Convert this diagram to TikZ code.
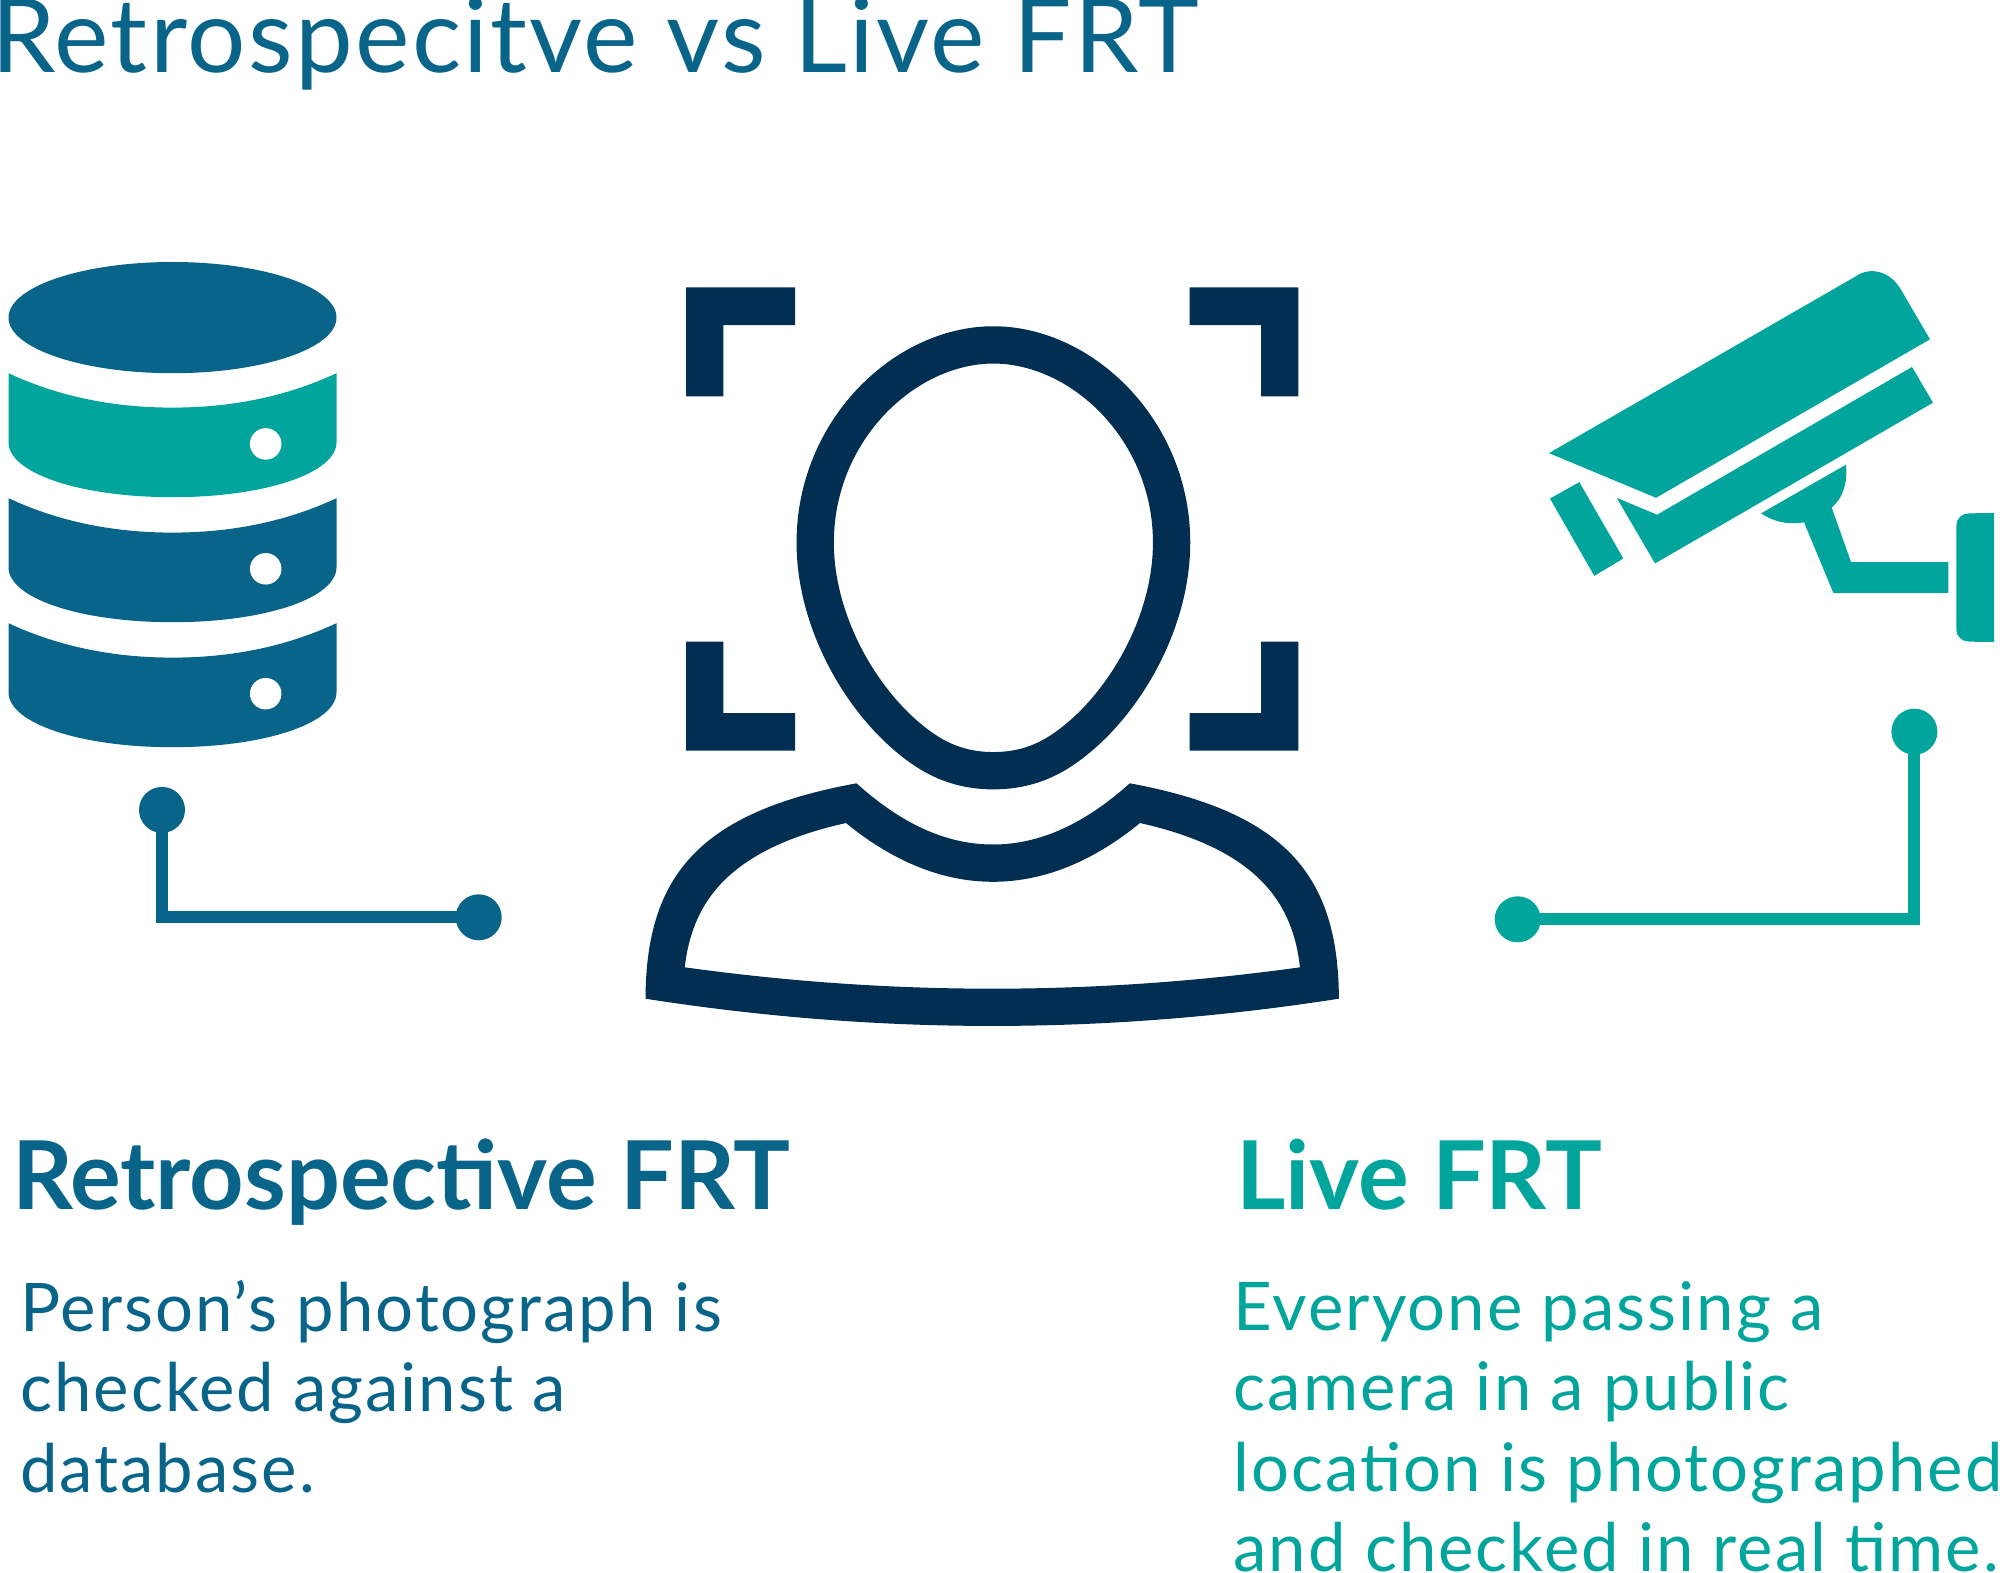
\documentclass[tikz,border=0pt]{standalone}
\usepackage{fontspec}
\setmainfont{Lato}
\definecolor{dbblue}{HTML}{09648A}
\definecolor{camteal}{HTML}{02A59C}
\definecolor{facenavy}{HTML}{012E51}
\tikzset{
  dotnode/.style={circle,fill=#1,inner sep=0pt,minimum size=46pt},
  linkline/.style={draw=#1,line width=12pt,line cap=butt,shorten <=-3pt,shorten >=-3pt},
  holenode/.style={circle,fill=white,inner sep=0pt,minimum size=31.5pt},
  headtext/.style={anchor=base west,inner sep=0pt,text=#1,font=\fontsize{95}{95}\selectfont\bfseries},
  bodytext/.style={anchor=base west,inner sep=0pt,align=left,text=#1,font=\fontsize{67}{80.5}\selectfont\addfontfeature{LetterSpace=3}},
}
\newcommand{\dbband}[2]{%
  \fill[#1] (8.5,#2) .. controls (60,#2+24) and (115,#2+34.4) .. (172.5,#2+34.4)
    .. controls (230,#2+34.4) and (285,#2+24) .. (336.5,#2)
    -- (336.5,#2+69) .. controls (336.5,#2+100) and (265,#2+124) .. (172.5,#2+124)
    .. controls (80,#2+124) and (8.5,#2+100) .. (8.5,#2+69) -- cycle;
}
\begin{document}
\begin{tikzpicture}[x=1pt,y=-1pt,line join=miter]
	\useasboundingbox (0,0) rectangle (2000,1573);
	% title
	\node[anchor=base west,inner sep=0pt,text=dbblue,font=\fontsize{103}{103}\selectfont\addfontfeature{LetterSpace=2.2}] (title) at (-9,72.7) {Retrospecitve vs Live FRT};
	% database
	\fill[dbblue] (172.5,317.6) ellipse (164 and 55.6);
	\dbband{camteal}{373.2}
	\dbband{dbblue}{498.2}
	\dbband{dbblue}{623.2}
	\node[holenode] (hole1) at (265.7,443.9) {};
	\node[holenode] (hole2) at (265.7,568.8) {};
	\node[holenode] (hole3) at (265.7,693.7) {};
	\node[dotnode=dbblue] (dbtop) at (162,809.9) {};
	\node[dotnode=dbblue] (dbend) at (478.7,917.3) {};
	\draw[linkline=dbblue] (dbtop) |- (dbend);
	% face brackets
	\fill[facenavy] (686,396.3) -- (686,287.4) -- (795,287.4) -- (795,325.2) -- (723.4,325.2) -- (723.4,396.3) -- cycle;
	\fill[facenavy] (1298.3,396.3) -- (1298.3,287.4) -- (1189.7,287.4) -- (1189.7,325.2) -- (1261,325.2) -- (1261,396.3) -- cycle;
	\fill[facenavy] (686,641.6) -- (686,750.5) -- (795,750.5) -- (795,713.2) -- (723.4,713.2) -- (723.4,641.6) -- cycle;
	\fill[facenavy] (1298.3,641.6) -- (1298.3,750.5) -- (1189.7,750.5) -- (1189.7,713.2) -- (1261,713.2) -- (1261,641.6) -- cycle;
	% head
	\draw[facenavy,line width=37.3pt] (993.4,344.9) .. controls (905,344.9) and (815.2,430) .. (815.2,542.6)
		.. controls (815.2,625) and (865,708) .. (921,747.5) .. controls (942,762.5) and (965,770.7) .. (993.4,770.7)
		.. controls (1021.8,770.7) and (1044.8,762.5) .. (1065.8,747.5) .. controls (1121.8,708) and (1171.6,625) .. (1171.6,542.6)
		.. controls (1171.6,430) and (1081.8,344.9) .. (993.4,344.9) -- cycle;
	% shoulders
	\fill[facenavy,even odd rule] (645.5,998.7) .. controls (646,875) and (700,812) .. (856.5,783.3)
		.. controls (895,818) and (940,844.5) .. (993,844.5) .. controls (1046,844.5) and (1091,818) .. (1129.8,783.3)
		.. controls (1285,812) and (1338.4,875) .. (1338.9,998.7)
		.. controls (1106,1035) and (878,1035) .. (645.5,998.7) -- cycle
		(684.7,967.3) .. controls (692,905) and (725,850) .. (846,823)
		.. controls (885,855) and (935,881.8) .. (993,881.8) .. controls (1051,881.8) and (1101,855) .. (1140,823)
		.. controls (1260,850) and (1293,905) .. (1300,967.3)
		.. controls (1095,995.8) and (890,995.8) .. (684.7,967.3) -- cycle;
	% camera
	\fill[camteal] (1549,453.1) -- (1656,497.8) -- (1930,339.3) -- (1900.7,289.3)
		.. controls (1890,271) and (1870,266) .. (1855,276.8) -- cycle;
	\fill[camteal] (1616.7,497.8) -- (1657,514.7) -- (1912,367) -- (1933,402.7) -- (1655,563.4) -- cycle;
	\fill[camteal] (1550,498.6) -- (1579.3,482.1) -- (1623.3,558.5) -- (1594.3,575.9) -- cycle;
	\fill[camteal] (1761,513.4) -- (1846,464.7) .. controls (1848,484) and (1842,499) .. (1831.7,507.6)
		-- (1851,562) -- (1948.3,562) -- (1948.3,592.8) -- (1833.3,592.8) -- (1804,522.3)
		.. controls (1788,525) and (1774,522) .. (1761,513.4) -- cycle;
	\fill[camteal,rounded corners=12pt] (1994,513.4) -- (1956.3,513.4) -- (1956.3,641.5) -- (1994,641.5);
	\fill[camteal] (1975,513.4) rectangle (1994,641.5);
	\node[dotnode=camteal] (camtop) at (1914.4,731.7) {};
	\node[dotnode=camteal] (camend) at (1517.7,919.3) {};
	\draw[linkline=camteal] (camtop) |- (camend);
	% texts
	\node[headtext=dbblue] (rethead) at (12,1209.3) {Retrospective FRT};
	\node[bodytext=dbblue] (retbody) at (20,1492.3) {Person’s photograph is\\checked against a\\database.};
	\node[headtext=camteal] (livehead) at (1236,1209.3) {Live FRT};
	\node[bodytext=camteal] (livebody) at (1233.5,1571.7) {Everyone passing a\\camera in a public\\location is photographed\\and checked in real time.};
\end{tikzpicture}
\end{document}
